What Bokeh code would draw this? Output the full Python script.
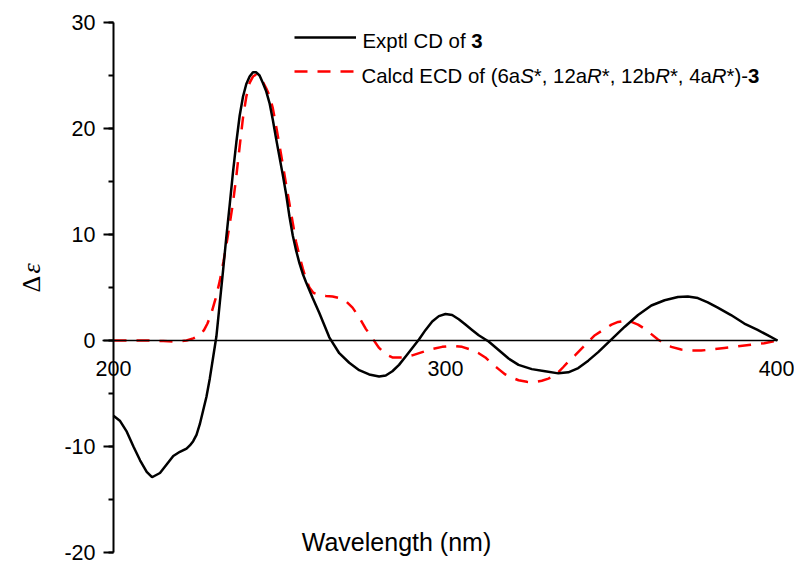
import math
from bokeh.plotting import figure
from bokeh.models import (Range1d, Label, Legend, LegendItem, SingleIntervalTicker,
                          FixedTicker)
from bokeh.embed import file_html
from bokeh.resources import INLINE

# ---------------- data ----------------
exp_wl = [200, 202, 204, 206, 208, 210, 211.6, 214, 216, 218, 220, 222, 223, 224, 225, 226,
          227, 228, 229, 230, 231, 232, 233, 234, 235, 236, 237, 238, 239, 240, 241, 242,
          243, 244, 245, 246, 247, 248, 249, 250, 251, 252, 253, 254, 255, 256, 257, 258,
          260, 262, 265, 268, 271, 274, 277, 280, 282, 284, 286, 288, 290, 292, 294, 296,
          298, 300, 302, 304, 306, 308, 310, 313, 316, 319, 322, 326, 330, 334, 337, 340,
          343, 346, 350, 354, 358, 362, 366, 370, 373, 376, 379, 382, 386, 390, 394, 397, 400]
exp_de = [-7.1, -7.6, -8.6, -10.0, -11.3, -12.4, -12.9, -12.5, -11.7, -10.9, -10.5, -10.2, -9.9,
          -9.5, -8.9, -7.9, -6.6, -5.3, -3.6, -1.6, 0.4, 3.5, 6.6, 9.8, 12.8, 15.9, 18.7,
          21.2, 23.0, 24.2, 24.9, 25.3, 25.3, 25.0, 24.3, 23.5, 22.4, 20.8, 19.0, 17.3, 15.6,
          13.8, 11.7, 9.9, 8.5, 7.3, 6.3, 5.5, 4.0, 2.6, 0.3, -1.2, -2.1, -2.8, -3.2, -3.4,
          -3.3, -2.9, -2.3, -1.5, -0.7, 0.1, 1.0, 1.8, 2.3, 2.5, 2.4, 2.0, 1.5, 1.0, 0.5,
          -0.1, -0.9, -1.7, -2.3, -2.7, -2.9, -3.1, -3.0, -2.6, -1.9, -1.1, 0.1, 1.3, 2.4,
          3.3, 3.8, 4.1, 4.15, 4.0, 3.6, 3.1, 2.4, 1.6, 1.0, 0.5, 0.0]

calc_wl = [200, 205, 210, 215, 219, 222, 224, 226, 227.3, 228.3, 229.5, 230.7, 232, 233.1,
           234.3, 235, 236, 237, 238, 239, 240, 241, 242, 243, 244, 245, 246, 247, 248, 249,
           250, 251, 252, 253, 254, 255, 256, 257, 258, 259, 260.2, 262, 264, 266, 268, 270,
           272, 274, 276, 278, 280, 282, 284, 287, 290, 293, 296, 299, 302, 305, 308, 310,
           312, 314, 316, 318, 320, 322, 324.5, 326.5, 329, 331, 333, 335.5, 337, 339, 341.5,
           343, 345, 347, 350, 352, 354, 356, 358, 360, 362, 364, 366, 368, 371, 374, 377,
           380, 384, 388, 392, 396, 400]
calc_de = [0, 0, 0, -0.05, -0.1, 0, 0.2, 0.5, 1.0, 1.6, 2.6, 3.9, 5.6, 7.4, 9.6, 11.0, 13.0,
           15.5, 18.3, 21.0, 23.0, 24.3, 24.9, 25.1, 24.9, 24.4, 23.8, 23.1, 21.9, 20.2, 18.4,
           16.6, 14.7, 12.9, 11.1, 9.3, 8.0, 6.8, 5.8, 5.0, 4.5, 4.3, 4.2, 4.15, 4.0, 3.7, 3.1,
           2.2, 1.1, 0.2, -0.7, -1.3, -1.6, -1.6, -1.4, -1.1, -0.8, -0.6, -0.5, -0.6, -0.9,
           -1.2, -1.6, -2.2, -2.7, -3.2, -3.5, -3.75, -3.9, -3.95, -3.8, -3.6, -3.3, -2.5,
           -2.0, -1.4, -0.6, -0.1, 0.5, 0.9, 1.5, 1.75, 1.85, 1.75, 1.5, 1.1, 0.6, 0.1, -0.3,
           -0.6, -0.85, -0.95, -0.95, -0.85, -0.7, -0.55, -0.4, -0.25, 0]

x_ticks = [200, 300, 400]
y_ticks = [-20, -10, 0, 10, 20, 30]

# ---------------- geometry ----------------
W, H = 794, 565
# pixel box of the data area (200..400, -20..30)
FL, FR, FT, FB = 113, 777, 22, 552
X0, X1, Y0, Y1 = 200, 400, -20, 30


def dx(px):
    return X0 + (px - FL) * (X1 - X0) / (FR - FL)


def dy(py):
    return Y1 - (py - FT) * (Y1 - Y0) / (FB - FT)


FONT = "Liberation Sans"
FS = 20.4      # legend text
TFS = 21.5     # tick labels

# the frame fills the whole canvas; axes sit at fixed data locations
p = figure(width=W, height=H, output_backend="svg", toolbar_location=None,
           x_range=Range1d(dx(0), dx(W)), y_range=Range1d(dy(H), dy(0)),
           min_border=0)
p.outline_line_color = None
p.xgrid.visible = False
p.ygrid.visible = False
p.background_fill_color = "white"
p.border_fill_color = "white"

xa = p.xaxis[0]
xa.fixed_location = 0
xa.bounds = (dx(102), X1)
xa.ticker = FixedTicker(ticks=x_ticks)
xa.major_tick_out = 0
xa.major_tick_in = 0
xa.minor_tick_out = 0
xa.minor_tick_in = 0
xa.axis_line_width = 1.3
xa.axis_line_color = "black"
xa.major_label_standoff = 20
xa.major_label_text_font = FONT
xa.major_label_text_font_size = f"{TFS}px"
xa.major_label_text_color = "black"

ya = p.yaxis[0]
ya.fixed_location = X0
ya.bounds = (Y0, Y1)
ya.ticker = SingleIntervalTicker(interval=10, num_minor_ticks=2)
ya.axis_line_width = 2
ya.axis_line_color = "black"
ya.major_tick_line_width = 2
ya.minor_tick_line_width = 2
ya.major_tick_out = 10
ya.major_tick_in = 0
ya.minor_tick_out = 5
ya.minor_tick_in = 0
ya.major_label_standoff = 8
ya.major_label_text_font = FONT
ya.major_label_text_font_size = f"{TFS}px"
ya.major_label_text_color = "black"
ya.major_label_overrides = {t: str(t) for t in y_ticks}

r_calc = p.line(calc_wl, calc_de, line_color="#ff0000", line_width=2.5, line_dash="13 10")
r_exp = p.line(exp_wl, exp_de, line_color="black", line_width=2.5)

# legend samples
legend = Legend(items=[LegendItem(label=" ", renderers=[r_exp]),
                       LegendItem(label=" ", renderers=[r_calc])],
                location=(294, H - 27 - 54), margin=0, padding=0, spacing=14,
                glyph_width=62, glyph_height=20, label_height=20, label_width=0,
                label_standoff=0, label_text_font_size="1px",
                border_line_color=None, background_fill_alpha=0)
p.add_layout(legend, "center")


def frag(text, px, py, style="normal", font=FONT, size=FS, angle=0.0, align="left",
         shift=True):
    off = -0.34 * size if shift else 0
    p.add_layout(Label(x=dx(px), y=dy(py + off), text=text,
                       text_font=font, text_font_size=f"{size}px", text_font_style=style,
                       text_color="black", text_baseline="alphabetic",
                       text_align=align, angle=angle))


EM = FS / 1000.0
# legend line 1
x = 362
frag("Exptl CD of ", x, 47)
x += 5335 * EM
frag("3", x, 47, style="bold")
# legend line 2
parts = [("Calcd ECD of (6a", "normal", 7780), ("S", "italic", 667),
         ("*, 12a", "normal", 2613), ("R", "italic", 722), ("*, 12b", "normal", 2613),
         ("R", "italic", 722), ("*, 4a", "normal", 2057), ("R", "italic", 722),
         ("*)-", "normal", 1055), ("3", "bold", 556)]
x = 361
for t, st, w in parts:
    frag(t, x, 82, style=st)
    x += w * EM

# axis titles
frag("Wavelength (nm)", 396, 550, align="center", size=25)
frag("\u0394", 31, 292, font="Liberation Serif", size=26, angle=math.pi / 2, shift=False)
frag("\u03b5", 31, 273, font="Liberation Serif", size=26, style="italic",
     angle=math.pi / 2, shift=False)

open("out.html", "w").write(file_html(p, INLINE))
